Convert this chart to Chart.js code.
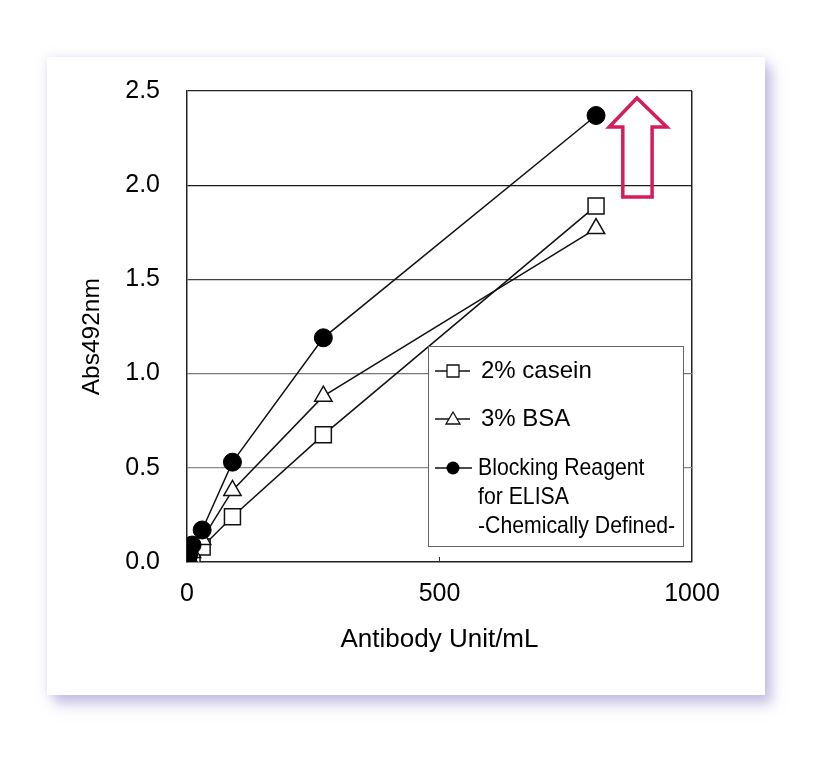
<!DOCTYPE html>
<html><head><meta charset="utf-8">
<script src="https://cdn.jsdelivr.net/npm/chart.js@4.4.0/dist/chart.umd.min.js"></script>
<style>
html,body{margin:0;padding:0;background:#fff;width:830px;height:773px;overflow:hidden}
#card{position:absolute;left:47px;top:57px;width:718px;height:638px;background:#fff;
  box-shadow:7px 9px 12px rgba(150,135,205,0.5),0 0 10px rgba(190,180,230,0.35)}
canvas{display:block}
</style></head><body>
<div id="card"><canvas id="c" width="718" height="638"></canvas></div>
<script>
// ---- data ----
const antibodyUnits = [1.1, 3.3, 10, 30, 90, 270, 810];
const casein   = [0.01, 0.02, 0.04, 0.08, 0.24, 0.675, 1.89];
const bsa      = [0.012, 0.025, 0.05, 0.12, 0.38, 0.88, 1.77];
const blocking = [0.025, 0.037, 0.09, 0.17, 0.53, 1.19, 2.37];
const yTicks = [0, 0.5, 1.0, 1.5, 2.0, 2.5];
const xTicks = [0, 500, 1000];
const seriesNames = ['2% casein', '3% BSA', ['Blocking Reagent', 'for ELISA', '-Chemically Defined-']];
const xTitle = 'Antibody Unit/mL';
const yTitle = 'Abs492nm';

const FONT = "'Liberation Sans', Arial, Helvetica, sans-serif";
const pts = ys => antibodyUnits.map((x, i) => ({x, y: ys[i]}));

const gridColors = {0.5: '#8a8a8a', 1: '#777', 1.5: '#444', 2: '#1a1a1a', 2.5: '#222'};

const overlay = {
  id: 'overlay',
  afterDatasetsDraw(chart) {
    const {ctx, scales: {x, y}, chartArea: ca} = chart;
    ctx.save();
    ctx.strokeStyle = '#333'; ctx.lineWidth = 1;
    ctx.beginPath();
    ctx.moveTo(x.getPixelForValue(500), ca.bottom);
    ctx.lineTo(x.getPixelForValue(500), ca.bottom - 5);
    ctx.stroke();
    // red outline arrow (annotation, in data space)
    const arrow = [[891, 2.463], [950, 2.309], [921, 2.309], [921, 1.937], [863, 1.937], [863, 2.309], [836, 2.309]];
    ctx.beginPath();
    arrow.forEach(([vx, vy], i) => {
      const px = x.getPixelForValue(vx), py = y.getPixelForValue(vy);
      i ? ctx.lineTo(px, py) : ctx.moveTo(px, py);
    });
    ctx.closePath();
    ctx.strokeStyle = '#d51c5c'; ctx.lineWidth = 3.5; ctx.lineJoin = 'miter';
    ctx.stroke();
    ctx.restore();
  },
  afterDraw(chart) {
    const {ctx, chartArea: ca} = chart;
    const bx = ca.left + 241, by = ca.top + 255, bw = 255, bh = 200;
    ctx.save();
    ctx.fillStyle = '#fff';
    ctx.fillRect(bx, by, bw, bh);
    ctx.strokeStyle = '#666'; ctx.lineWidth = 1;
    ctx.strokeRect(bx + 0.5, by + 0.5, bw, bh);
    const rows = [25, 73, 122];
    ctx.lineWidth = 1.3; ctx.strokeStyle = '#111';
    rows.forEach((ry, i) => {
      const cy = by + ry, cx = bx + 25;
      ctx.beginPath(); ctx.moveTo(bx + 7, cy); ctx.lineTo(bx + (i === 2 ? 44 : 42), cy); ctx.stroke();
      ctx.beginPath();
      if (i === 0) { ctx.rect(cx - 6, cy - 6, 12, 12); ctx.fillStyle = '#fff'; ctx.fill(); ctx.stroke(); }
      else if (i === 1) { ctx.moveTo(cx, cy - 7); ctx.lineTo(cx + 7, cy + 5); ctx.lineTo(cx - 7, cy + 5); ctx.closePath(); ctx.fillStyle = '#fff'; ctx.fill(); ctx.stroke(); }
      else { ctx.arc(cx, cy, 6.5, 0, Math.PI * 2); ctx.fillStyle = '#000'; ctx.fill(); }
      ctx.fillStyle = '#000';
      ctx.textBaseline = 'middle'; ctx.textAlign = 'left';
      ctx.font = '24px ' + FONT;
      const name = seriesNames[i];
      if (Array.isArray(name)) {
        name.forEach((line, k) => {
          ctx.save();
          ctx.translate(bx + 50, cy + k * 29);
          ctx.scale(0.885, 1);
          ctx.fillText(line, 0, 0);
          ctx.restore();
        });
      } else {
        ctx.fillText(name, bx + 53, cy);
      }
    });
    ctx.restore();
  }
};

new Chart(document.getElementById('c'), {
  type: 'line',
  data: {
    datasets: [
      {label: seriesNames[0], data: pts(casein), order: 3, borderColor: '#111', borderWidth: 1.5,
       pointStyle: 'rect', pointRadius: 11.3, pointBackgroundColor: '#fff', pointBorderColor: '#111', pointBorderWidth: 1.5},
      {label: seriesNames[1], data: pts(bsa), order: 2, borderColor: '#111', borderWidth: 1.5,
       pointStyle: 'triangle', pointRadius: 10, pointBackgroundColor: '#fff', pointBorderColor: '#111', pointBorderWidth: 1.5},
      {label: 'Blocking Reagent for ELISA -Chemically Defined-', data: pts(blocking), order: 1, borderColor: '#111', borderWidth: 1.5,
       pointStyle: 'circle', pointRadius: 9, pointBackgroundColor: '#000', pointBorderColor: '#000', pointBorderWidth: 1}
    ]
  },
  options: {
    responsive: false,
    animation: false,
    events: [],
    layout: {padding: {left: 0, top: 34, right: 73, bottom: 0}},
    plugins: {legend: {display: false}, tooltip: {enabled: false}},
    scales: {
      x: {
        type: 'linear', min: 0, max: 1000,
        afterBuildTicks: s => { s.ticks = xTicks.map(v => ({value: v})); },
        afterFit: s => { s.height = 133; },
        ticks: {font: {family: FONT, size: 25}, color: '#000', padding: 17, callback: v => String(v)},
        grid: {drawTicks: false, lineWidth: 1.5, color: c => (c.tick && c.tick.value === 1000) ? '#222' : 'rgba(0,0,0,0)'},
        border: {display: true, color: '#222', width: 1.5},
        title: {display: true, text: xTitle, color: '#000', font: {family: FONT, size: 26}, padding: {top: 0, bottom: 40}}
      },
      y: {
        type: 'linear', min: 0, max: 2.5,
        afterBuildTicks: s => { s.ticks = yTicks.map(v => ({value: v})); },
        afterFit: s => { s.width = 140; s.paddingTop = 10; s.paddingBottom = 10; },
        ticks: {font: {family: FONT, size: 25}, color: '#000', padding: 27, callback: v => Number(v).toFixed(1)},
        grid: {drawTicks: false, lineWidth: 1.2, color: c => (c.tick && gridColors[c.tick.value]) || 'rgba(0,0,0,0)'},
        border: {display: true, color: '#222', width: 1.5},
        title: {display: true, text: yTitle + '   ', color: '#000', font: {family: FONT, size: 24.5}, padding: {top: 31, bottom: 0}}
      }
    }
  },
  plugins: [overlay]
});
</script>
</body></html>
